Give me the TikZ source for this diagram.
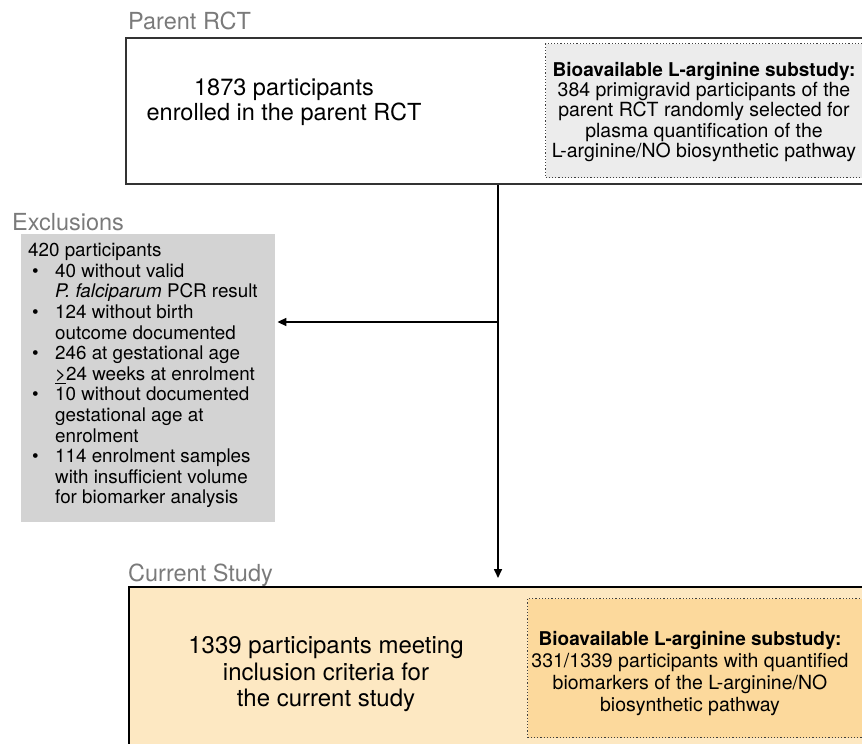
\documentclass[tikz,border=0pt]{standalone}
\usepackage{fontspec}
\setmainfont{TeX Gyre Heros}
\usepackage{xcolor}
\usetikzlibrary{arrows.meta}
\definecolor{labelgray}{HTML}{7A7A7A}
\definecolor{exclgray}{HTML}{D3D3D3}
\definecolor{subgray}{HTML}{ECECEC}
\definecolor{studyorange}{HTML}{FDE8C2}
\definecolor{suborange}{HTML}{FCD99C}

\begin{document}
\begin{tikzpicture}[x=1pt,y=-1pt,
    grouplabel/.style={anchor=base west,inner sep=0pt,text=labelgray,
      font=\fontsize{23.5}{28}\selectfont},
    groupbox/.style={anchor=north west,inner sep=0pt,rectangle},
    subbox/.style={anchor=north west,inner sep=0pt,rectangle,
      draw=black!75,dotted,line width=1.2pt},
    maintext/.style={align=center,inner sep=0pt},
    flow/.style={-{Triangle[length=9pt,width=8pt]},line width=1.6pt}]
  \useasboundingbox (0,0) rectangle (862,744);

  % parent trial
  \node[grouplabel] (parentlbl) at (128,29) {Parent RCT};
  \node[groupbox,draw=black!80,line width=2pt,fill=white,
    minimum width=745pt,minimum height=146pt] (parent) at (125,37) {};
  \node[subbox,fill=subgray,minimum width=325pt,minimum height=134pt]
    (parentsub) at (545,43) {};
  \node[maintext,font=\fontsize{23.5}{25}\selectfont] (parenttxt) at (284,102)
    {1873 participants\\ enrolled in the parent RCT};
  \node[maintext,font=\fontsize{19.5}{20.2}\selectfont] (parentsubtxt) at (704,112)
    {\textbf{\fontsize{19}{20.2}\selectfont Bioavailable L-arginine substudy:}\\
     384 primigravid participants of the\\
     parent RCT randomly selected for\\
     plasma quantification of the\\
     L-arginine/NO biosynthetic pathway};

  % exclusions
  \node[grouplabel] (excllbl) at (12,230) {Exclusions};
  \node[groupbox,fill=exclgray,minimum width=254pt,minimum height=288pt]
    (excl) at (21,234) {};
  \node[anchor=north west,inner sep=0pt,align=left,
    font=\fontsize{18.8}{20.6}\selectfont] (excltxt) at (28,242)
    {\begin{tabular}{@{}p{27pt}@{}l@{}}
     \multicolumn{2}{@{}l@{}}{420 participants}\\
     \hspace{4pt}\textbullet & 40 without valid\\
      & \textit{P. falciparum} PCR result\\
     \hspace{4pt}\textbullet & 124 without birth\\
      & outcome documented\\
     \hspace{4pt}\textbullet & 246 at gestational age\\
      & \underline{>}24 weeks at enrolment\\
     \hspace{4pt}\textbullet & 10 without documented\\
      & gestational age at\\
      & enrolment\\
     \hspace{4pt}\textbullet & 114 enrolment samples\\
      & with insufficient volume\\
      & for biomarker analysis
     \end{tabular}};

  % current study
  \node[grouplabel] (studylbl) at (128,581) {Current Study};
  \node[groupbox,draw=black,line width=1.5pt,fill=studyorange,
    minimum width=745pt,minimum height=170pt] (study) at (128,586) {};
  \node[subbox,fill=suborange,minimum width=343pt,minimum height=139pt]
    (studysub) at (527,598) {};
  \node[maintext,font=\fontsize{24}{26.5}\selectfont] (studytxt) at (326,674.5)
    {1339 participants meeting\\ inclusion criteria for\\ the current study};
  \node[maintext,font=\fontsize{19.5}{22}\selectfont] (studysubtxt) at (690,674)
    {\textbf{\fontsize{19}{22}\selectfont Bioavailable L-arginine substudy:}\\
     331/1339 participants with quantified\\
     biomarkers of the L-arginine/NO\\
     biosynthetic pathway};

  % flow
  \coordinate (split) at (498,322);
  \draw[flow,shorten >=8pt] (parent.south -| split) -- (study.north -| split);
  \draw[flow,shorten >=2pt] (split) -- (excl.east |- split);
\end{tikzpicture}
\end{document}
